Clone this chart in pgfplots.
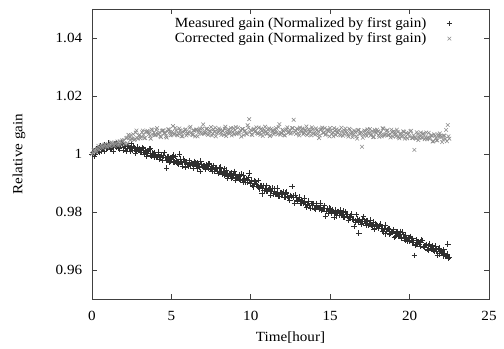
\documentclass[border=0pt]{standalone}
\usepackage{fontspec}
\setmainfont{Liberation Serif}[FakeStretch=1.08]
\usepackage{pgfplots}
\usepackage{pgfplotstable}
\pgfplotsset{compat=1.18}
\pgfplotstableread{
t m c
0.0 1.0000 1.0000
0.1 1.0007 1.0013
0.2 1.0000 1.0007
0.3 1.0018 1.0019
0.4 1.0009 1.0028
0.5 1.0022 1.0022
0.6 1.0009 1.0027
0.7 1.0021 1.0020
0.8 1.0032 1.0033
0.9 1.0018 1.0027
1.0 1.0023 1.0033
1.1 1.0031 1.0027
1.2 1.0016 1.0040
1.3 1.0029 1.0033
1.4 1.0035 1.0029
1.5 1.0023 1.0037
1.6 1.0027 1.0043
1.7 1.0018 1.0036
1.8 1.0029 1.0032
1.9 1.0035 1.0047
2.0 1.0013 1.0048
2.1 1.0025 1.0034
2.2 1.0020 1.0056
2.3 1.0027 1.0066
2.4 1.0008 1.0048
2.5 1.0024 1.0053
2.6 1.0027 1.0068
2.7 1.0014 1.0051
2.8 1.0009 1.0081
2.9 1.0016 1.0053
3.0 1.0019 1.0066
3.1 1.0006 1.0060
3.2 1.0019 1.0081
3.3 1.0000 1.0055
3.4 1.0007 1.0076
3.5 1.0003 1.0080
3.6 1.0017 1.0069
3.7 0.9997 1.0053
3.8 1.0004 1.0082
3.9 0.9988 1.0074
4.0 0.9998 1.0066
4.1 0.9988 1.0089
4.2 1.0000 1.0069
4.3 0.9990 1.0061
4.4 0.9978 1.0079
4.5 0.9994 1.0082
4.6 0.9988 1.0072
4.7 0.9952 1.0057
4.8 0.9992 1.0085
4.9 0.9975 1.0076
5.0 0.9984 1.0066
5.1 0.9997 1.0096
5.2 0.9973 1.0069
5.3 0.9978 1.0081
5.4 0.9968 1.0064
5.5 1.0000 1.0088
5.6 0.9972 1.0072
5.7 0.9959 1.0061
5.8 0.9976 1.0078
5.9 0.9972 1.0085
6.0 0.9964 1.0070
6.1 0.9977 1.0077
6.2 0.9960 1.0094
6.3 0.9966 1.0067
6.4 0.9962 1.0081
6.5 0.9970 1.0061
6.6 0.9952 1.0084
6.7 0.9964 1.0073
6.8 0.9940 1.0088
6.9 0.9965 1.0069
7.0 0.9959 1.0102
7.1 0.9954 1.0073
7.2 0.9963 1.0086
7.3 0.9950 1.0066
7.4 0.9965 1.0079
7.5 0.9951 1.0093
7.6 0.9954 1.0070
7.7 0.9941 1.0077
7.8 0.9952 1.0061
7.9 0.9940 1.0084
8.0 0.9951 1.0088
8.1 0.9939 1.0073
8.2 0.9931 1.0081
8.3 0.9949 1.0066
8.4 0.9931 1.0094
8.5 0.9934 1.0072
8.6 0.9924 1.0085
8.7 0.9933 1.0076
8.8 0.9916 1.0064
8.9 0.9928 1.0089
9.0 0.9930 1.0082
9.1 0.9918 1.0069
9.2 0.9919 1.0091
9.3 0.9912 1.0075
9.4 0.9931 1.0060
9.5 0.9904 1.0086
9.6 0.9914 1.0079
9.7 0.9915 1.0071
9.8 0.9903 1.0099
9.9 0.9934 1.0120
10.0 0.9910 1.0083
10.1 0.9892 1.0065
10.2 0.9900 1.0087
10.3 0.9905 1.0080
10.4 0.9890 1.0072
10.5 0.9884 1.0091
10.6 0.9891 1.0066
10.7 0.9863 1.0080
10.8 0.9891 1.0073
10.9 0.9881 1.0094
11.0 0.9872 1.0069
11.1 0.9878 1.0083
11.2 0.9881 1.0062
11.3 0.9870 1.0087
11.4 0.9863 1.0078
11.5 0.9880 1.0074
11.6 0.9862 1.0089
11.7 0.9866 1.0068
11.8 0.9854 1.0103
11.9 0.9867 1.0072
12.0 0.9862 1.0084
12.1 0.9852 1.0065
12.2 0.9866 1.0081
12.3 0.9853 1.0092
12.4 0.9849 1.0075
12.5 0.9857 1.0070
12.6 0.9888 1.0089
12.7 0.9850 1.0118
12.8 0.9859 1.0081
12.9 0.9837 1.0087
13.0 0.9843 1.0072
13.1 0.9830 1.0091
13.2 0.9842 1.0077
13.3 0.9832 1.0068
13.4 0.9833 1.0083
13.5 0.9817 1.0095
13.6 0.9837 1.0070
13.7 0.9822 1.0079
13.8 0.9829 1.0064
13.9 0.9824 1.0085
14.0 0.9813 1.0073
14.1 0.9829 1.0088
14.2 0.9816 1.0068
14.3 0.9810 1.0055
14.4 0.9822 1.0083
14.5 0.9809 1.0091
14.6 0.9814 1.0074
14.7 0.9784 1.0066
14.8 0.9812 1.0084
14.9 0.9802 1.0078
15.0 0.9812 1.0090
15.1 0.9795 1.0069
15.2 0.9802 1.0061
15.3 0.9799 1.0079
15.4 0.9787 1.0085
15.5 0.9802 1.0073
15.6 0.9790 1.0067
15.7 0.9794 1.0091
15.8 0.9803 1.0063
15.9 0.9781 1.0080
16.0 0.9793 1.0078
16.1 0.9785 1.0066
16.2 0.9781 1.0087
16.3 0.9791 1.0070
16.4 0.9774 1.0058
16.5 0.9750 1.0081
16.6 0.9766 1.0074
16.7 0.9776 1.0053
16.8 0.9727 1.0082
16.9 0.9765 1.0070
17.0 0.9769 1.0025
17.1 0.9784 1.0066
17.2 0.9760 1.0079
17.3 0.9768 1.0062
17.4 0.9753 1.0075
17.5 0.9761 1.0086
17.6 0.9754 1.0069
17.7 0.9765 1.0058
17.8 0.9743 1.0083
17.9 0.9755 1.0072
18.0 0.9745 1.0078
18.1 0.9754 1.0059
18.2 0.9743 1.0076
18.3 0.9735 1.0089
18.4 0.9741 1.0063
18.5 0.9725 1.0068
18.6 0.9739 1.0082
18.7 0.9742 1.0065
18.8 0.9726 1.0057
18.9 0.9730 1.0075
19.0 0.9733 1.0078
19.1 0.9717 1.0067
19.2 0.9726 1.0084
19.3 0.9719 1.0059
19.4 0.9733 1.0070
19.5 0.9713 1.0059
19.6 0.9722 1.0078
19.7 0.9702 1.0053
19.8 0.9712 1.0072
19.9 0.9712 1.0069
20.0 0.9699 1.0059
20.1 0.9704 1.0080
20.2 0.9709 1.0055
20.3 0.9650 1.0014
20.4 0.9688 1.0053
20.5 0.9697 1.0069
20.6 0.9690 1.0057
20.7 0.9697 1.0074
20.8 0.9702 1.0055
20.9 0.9679 1.0071
21.0 0.9685 1.0058
21.1 0.9671 1.0051
21.2 0.9684 1.0073
21.3 0.9674 1.0056
21.4 0.9684 1.0064
21.5 0.9668 1.0044
21.6 0.9682 1.0063
21.7 0.9664 1.0047
21.8 0.9672 1.0067
21.9 0.9656 1.0071
22.0 0.9662 1.0059
22.1 0.9649 1.0050
22.2 0.9659 1.0063
22.3 0.9647 1.0083
22.4 0.9690 1.0100
22.5 0.9643 1.0053
}\gaindata
\pgfplotstableread{
t m c
0.05 1.0005 1.0004
0.15 0.9992 1.0015
0.25 1.0009 1.0009
0.35 1.0018 1.0017
0.45 1.0005 1.0014
0.55 1.0029 1.0030
0.65 1.0015 1.0024
0.75 1.0009 1.0028
0.85 1.0027 1.0032
0.95 1.0019 1.0023
1.05 1.0037 1.0032
1.15 1.0017 1.0028
1.25 1.0027 1.0039
1.35 1.0011 1.0028
1.45 1.0034 1.0034
1.55 1.0037 1.0038
1.65 1.0021 1.0029
1.75 1.0024 1.0044
1.85 1.0037 1.0039
1.95 1.0014 1.0044
2.05 1.0026 1.0036
2.15 1.0010 1.0054
2.25 1.0029 1.0036
2.35 1.0018 1.0056
2.45 1.0036 1.0065
2.55 1.0014 1.0052
2.65 1.0020 1.0049
2.75 1.0003 1.0074
2.85 1.0024 1.0055
2.95 1.0013 1.0064
3.05 1.0005 1.0054
3.15 1.0022 1.0075
3.25 1.0005 1.0066
3.35 1.0014 1.0055
3.45 0.9993 1.0077
3.55 1.0008 1.0075
3.65 1.0018 1.0062
3.75 0.9992 1.0085
3.85 0.9999 1.0067
3.95 1.0005 1.0065
4.05 0.9990 1.0083
4.15 1.0006 1.0069
4.25 0.9982 1.0075
4.35 0.9995 1.0058
4.45 0.9987 1.0081
4.55 1.0005 1.0072
4.65 0.9978 1.0061
4.75 0.9990 1.0078
4.85 0.9971 1.0084
4.95 0.9983 1.0064
5.05 0.9989 1.0077
5.15 0.9973 1.0068
5.25 0.9992 1.0090
5.35 0.9974 1.0066
5.45 0.9965 1.0071
5.55 0.9982 1.0081
5.65 0.9973 1.0061
5.75 0.9982 1.0075
5.85 0.9955 1.0083
5.95 0.9973 1.0064
6.05 0.9959 1.0071
6.15 0.9973 1.0090
6.25 0.9968 1.0074
6.35 0.9951 1.0065
6.45 0.9974 1.0080
6.55 0.9958 1.0084
6.65 0.9969 1.0061
6.75 0.9953 1.0082
6.85 0.9975 1.0075
6.95 0.9957 1.0088
7.05 0.9961 1.0070
7.15 0.9947 1.0074
7.25 0.9961 1.0087
7.35 0.9967 1.0068
7.45 0.9948 1.0079
7.55 0.9939 1.0064
7.65 0.9960 1.0085
7.75 0.9948 1.0091
7.85 0.9953 1.0072
7.95 0.9933 1.0074
8.05 0.9955 1.0083
8.15 0.9937 1.0066
8.25 0.9942 1.0079
8.35 0.9928 1.0087
8.45 0.9944 1.0062
8.55 0.9917 1.0081
8.65 0.9932 1.0070
8.75 0.9934 1.0089
8.85 0.9921 1.0076
8.95 0.9940 1.0068
9.05 0.9910 1.0093
9.15 0.9921 1.0073
9.25 0.9927 1.0071
9.35 0.9913 1.0082
9.45 0.9908 1.0086
9.55 0.9927 1.0065
9.65 0.9902 1.0080
9.75 0.9912 1.0069
9.85 0.9918 1.0090
9.95 0.9899 1.0075
10.05 0.9905 1.0067
10.15 0.9887 1.0084
10.25 0.9906 1.0077
10.35 0.9894 1.0092
10.45 0.9908 1.0070
10.55 0.9880 1.0073
10.65 0.9892 1.0087
10.75 0.9882 1.0062
10.85 0.9874 1.0082
10.95 0.9892 1.0078
11.05 0.9873 1.0071
11.15 0.9882 1.0088
11.25 0.9859 1.0065
11.35 0.9882 1.0080
11.45 0.9871 1.0068
11.55 0.9862 1.0084
11.65 0.9882 1.0075
11.75 0.9854 1.0093
11.85 0.9867 1.0067
11.95 0.9860 1.0072
12.05 0.9869 1.0079
12.15 0.9851 1.0064
12.25 0.9869 1.0085
12.35 0.9849 1.0073
12.45 0.9840 1.0083
12.55 0.9853 1.0073
12.65 0.9856 1.0089
12.75 0.9831 1.0075
12.85 0.9850 1.0069
12.95 0.9841 1.0085
13.05 0.9851 1.0064
13.15 0.9829 1.0080
13.25 0.9838 1.0088
13.35 0.9848 1.0072
13.45 0.9826 1.0082
13.55 0.9827 1.0065
13.65 0.9838 1.0085
13.75 0.9813 1.0076
13.85 0.9829 1.0092
13.95 0.9829 1.0070
14.05 0.9810 1.0067
14.15 0.9822 1.0082
14.25 0.9815 1.0078
14.35 0.9830 1.0064
14.45 0.9806 1.0086
14.55 0.9813 1.0073
14.65 0.9822 1.0089
14.75 0.9803 1.0069
14.85 0.9795 1.0080
14.95 0.9813 1.0061
15.05 0.9799 1.0081
15.15 0.9807 1.0073
15.25 0.9783 1.0089
15.35 0.9806 1.0066
15.45 0.9799 1.0076
15.55 0.9788 1.0082
15.65 0.9807 1.0064
15.75 0.9791 1.0079
15.85 0.9782 1.0069
15.95 0.9799 1.0088
16.05 0.9793 1.0072
16.15 0.9772 1.0060
16.25 0.9786 1.0084
16.35 0.9793 1.0075
16.45 0.9776 1.0067
16.55 0.9770 1.0078
16.65 0.9791 1.0061
16.75 0.9768 1.0083
16.85 0.9773 1.0069
16.95 0.9758 1.0075
17.05 0.9775 1.0056
17.15 0.9769 1.0081
17.25 0.9754 1.0068
17.35 0.9771 1.0085
17.45 0.9758 1.0072
17.55 0.9772 1.0064
17.65 0.9749 1.0079
17.75 0.9741 1.0059
17.85 0.9758 1.0076
17.95 0.9754 1.0084
18.05 0.9743 1.0064
18.15 0.9758 1.0072
18.25 0.9743 1.0061
18.35 0.9732 1.0087
18.45 0.9755 1.0067
18.55 0.9734 1.0080
18.65 0.9743 1.0065
18.75 0.9722 1.0069
18.85 0.9733 1.0084
18.95 0.9739 1.0060
19.05 0.9712 1.0073
19.15 0.9730 1.0061
19.25 0.9730 1.0076
19.35 0.9717 1.0054
19.45 0.9711 1.0071
19.55 0.9730 1.0063
19.65 0.9713 1.0076
19.75 0.9721 1.0061
19.85 0.9698 1.0054
19.95 0.9710 1.0072
20.05 0.9716 1.0078
20.15 0.9697 1.0055
20.25 0.9701 1.0065
20.35 0.9684 1.0057
20.45 0.9703 1.0075
20.55 0.9697 1.0048
20.65 0.9681 1.0064
20.75 0.9704 1.0057
20.85 0.9681 1.0069
20.95 0.9683 1.0051
21.05 0.9688 1.0074
21.15 0.9669 1.0057
21.25 0.9690 1.0053
21.35 0.9673 1.0064
21.45 0.9683 1.0043
21.55 0.9665 1.0068
21.65 0.9672 1.0055
21.75 0.9651 1.0047
21.85 0.9675 1.0060
21.95 0.9667 1.0063
22.05 0.9658 1.0041
22.15 0.9670 1.0064
22.25 0.9646 1.0052
22.35 0.9655 1.0044
22.45 0.9642 1.0061
}\gaindataB
\definecolor{measc}{gray}{0.18}
\definecolor{corrc}{gray}{0.55}
\begin{document}
\fontsize{14bp}{16.5bp}\selectfont
\begin{tikzpicture}[font=\fontsize{14bp}{16.5bp}\selectfont]
\path[use as bounding box] (-92bp,-50bp) rectangle (412bp,299bp);
\begin{axis}[
  at={(0,0)}, anchor=south west,
  scale only axis,
  width=397bp, height=290bp,
  xmin=0, xmax=25, ymin=0.95, ymax=1.05,
  xtick={0,5,10,15,20,25},
  ytick={0.96,0.98,1,1.02,1.04},
  /pgf/number format/assume math mode=true,
  /pgf/number format/fixed,
  tick align=inside,
  major tick length=5bp,
  minor tick num=0,
  axis line style={draw=black!75, line width=0.8bp},
  every tick/.style={black!75, line width=0.7bp},
  xticklabel style={yshift=-7bp},
  yticklabel style={xshift=-5bp},
  xlabel={Time[hour]},
  ylabel={Relative gain},
  xlabel style={at={(axis description cs:0.5,-0.148)}, anchor=base},
  ylabel style={at={(axis description cs:-0.184,0.5)}, anchor=center},
  legend cell align=right,
  legend plot pos=right,
  legend image code/.code={\draw[#1] plot coordinates {(0.75cm,0cm)}; \path (0cm,0cm) (0.9cm,0cm);},
  legend style={at={(1,1)}, anchor=north east, xshift=-32bp, yshift=-5bp,
    draw=none, fill=none, nodes={inner sep=1.5bp}},
]
\addplot[only marks, mark=+, mark size=2.8bp, color=measc, mark options={line width=0.6bp}]
  table[x=t, y=m] {\gaindata};
\addlegendentry{Measured gain (Normalized by first gain)}
\addplot[only marks, mark=+, mark size=2.8bp, color=measc, mark options={line width=0.6bp}, forget plot]
  table[x=t, y=m] {\gaindataB};
\addplot[only marks, mark=x, mark size=2.6bp, color=corrc, mark options={line width=0.6bp}]
  table[x=t, y=c] {\gaindata};
\addlegendentry{Corrected gain (Normalized by first gain)}
\addplot[only marks, mark=x, mark size=2.6bp, color=corrc, mark options={line width=0.6bp}, forget plot]
  table[x=t, y=c] {\gaindataB};
\end{axis}
\end{tikzpicture}
\end{document}
